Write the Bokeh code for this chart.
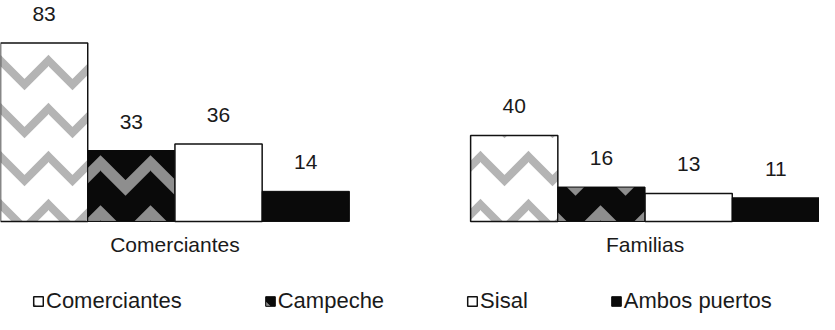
from bokeh.plotting import figure
from bokeh.models import FactorRange, Range1d, ColumnDataSource, Legend, LegendItem
from bokeh.core.properties import value
from bokeh.embed import file_html
from bokeh.resources import INLINE

# ---- data ----
groups = ["Comerciantes", "Familias"]
series = ["Comerciantes", "Campeche", "Sisal", "Ambos puertos"]
comerciantes_vals = [83, 40]
campeche_vals = [33, 16]
sisal_vals = [36, 13]
ambos_vals = [14, 11]
series_vals = [comerciantes_vals, campeche_vals, sisal_vals, ambos_vals]

FONT = "Liberation Sans"
TXT = "#1a1a1a"

factors = [(g, s) for g in groups for s in series]
x_range = FactorRange(factors=factors, factor_padding=0, group_padding=1.39, range_padding=0)

p = figure(width=819, height=314, x_range=x_range, y_range=Range1d(-43.3, 102.8),
           output_backend="svg", toolbar_location=None,
           x_axis_location=None, y_axis_location=None,
           min_border=0, outline_line_color=None)
p.grid.visible = False

styles = [
    dict(fill_color="white", line_color="#111111", line_width=1.5,
         hatch_pattern="horizontal_wave", hatch_color="#b4b4b4", hatch_weight=8, hatch_scale=48),
    dict(fill_color="#0a0a0a", line_color="#0a0a0a", line_width=1,
         hatch_pattern="horizontal_wave", hatch_color="#8e8e8e", hatch_weight=11, hatch_scale=50),
    dict(fill_color="white", line_color="#111111", line_width=1.5),
    dict(fill_color="#0a0a0a", line_color="#0a0a0a", line_width=1),
]

items = []
for s, vals, st in zip(series, series_vals, styles):
    src = ColumnDataSource(dict(x=[(g, s) for g in groups], top=vals,
                                lbl=[str(v) for v in vals]))
    r = p.vbar(x="x", top="top", bottom=0, width=1.0, source=src, **st)
    p.text(x="x", y="top", text="lbl", source=src, y_offset=-29,
           text_align="center", text_baseline="middle",
           text_font=value(FONT), text_font_size="21px", text_color=TXT)
    items.append(LegendItem(label=s, renderers=[r]))

gsrc = ColumnDataSource(dict(x=groups, y=[0, 0], t=groups))
p.text(x="x", y="y", text="t", source=gsrc, y_offset=23,
       text_align="center", text_baseline="middle",
       text_font=value(FONT), text_font_size="21px", text_color=TXT)

legend = Legend(items=items, orientation="horizontal", location=(32, 0),
                spacing=82, padding=0, margin=0, label_standoff=2,
                glyph_width=12, glyph_height=12, label_height=25,
                label_text_font=FONT, label_text_font_size="22px",
                label_text_color=TXT, label_text_baseline="middle",
                border_line_color=None, background_fill_alpha=0)
p.add_layout(legend, "center")

open("out.html", "w").write(file_html(p, INLINE))
